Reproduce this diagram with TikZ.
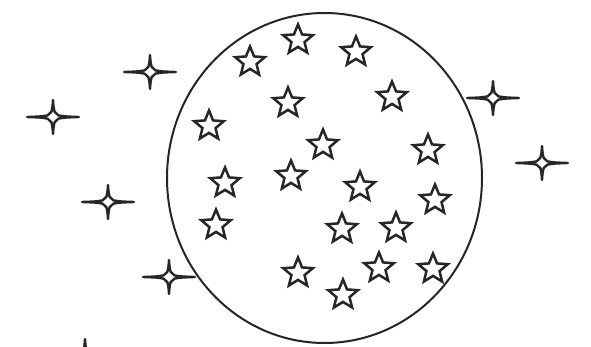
\documentclass[tikz,border=0pt]{standalone}
\usetikzlibrary{shapes.geometric}
\tikzset{
  x=1pt, y=-1pt,
  starnode/.style={star, star points=5, star point ratio=2.25, minimum size=31pt,
    inner sep=0pt, draw=black!85, line width=2.5pt, line join=miter},
  globe/.style={draw=black!85, line width=2pt},
  sparkle/.pic={
    \draw[black!85, line width=2.4pt, line join=round]
      (-26,0) .. controls (-12,-0.5) .. (-5.5,-1.6) -- (-1.6,-5.2)
              .. controls (-0.5,-10) .. (0,-17)
              .. controls (0.5,-10) .. (1.6,-5.2) -- (5.5,-1.6)
              .. controls (12,-0.5) .. (26,0)
              .. controls (12,0.5) .. (5.5,1.6) -- (1.6,5.2)
              .. controls (0.5,10) .. (0,17)
              .. controls (-0.5,10) .. (-1.6,5.2) -- (-5.5,1.6)
              .. controls (-12,0.5) .. cycle;
  }
}
\begin{document}
\begin{tikzpicture}
\clip (0,0) rectangle (591,347);
\fill[white] (0,0) rectangle (591,347);
% the globe
\node[globe, ellipse, minimum width=315pt, minimum height=330pt, inner sep=0pt] (globe) at (324.5,178) {};
% stars inside
\foreach \n/\x/\y in {a/250/62, b/298/40, c/356/52, d/288/103, e/392/97,
  f/209/126, g/323/145, h/428/150, i/225/183, j/291/176, k/360/187,
  l/435/200, m/216/225, n/342/229, o/396/228, p/298/273, q/379/268,
  r/433/269, s/343/295}
  \node[starnode] (star-\n) at (\x,\y) {};
% sparkles outside
\foreach \x/\y in {150/72, 53/117, 108/202, 169/277, 493/98, 542/163, 85/356}
  \pic at (\x,\y) {sparkle};
\end{tikzpicture}
\end{document}
